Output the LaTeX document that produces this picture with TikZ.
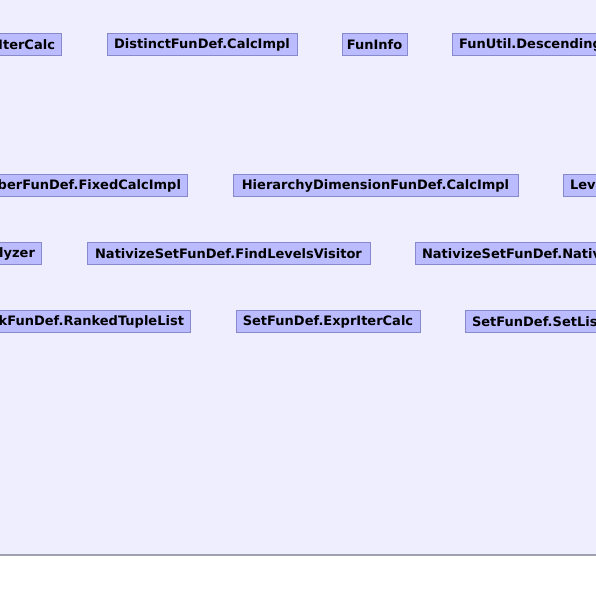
\documentclass[tikz,border=0pt]{standalone}
\usepackage{fontspec}
\setmainfont{DejaVu Sans}
\definecolor{bgcol}{HTML}{EEEEFF}
\definecolor{boxfill}{HTML}{BBBBFF}
\definecolor{boxline}{HTML}{8888CC}
\definecolor{footline}{HTML}{A0A0B0}
\begin{document}
\begin{tikzpicture}[x=0.75pt,y=-0.75pt,
  cls/.style={draw=boxline,fill=boxfill,line width=0.75pt,font=\bfseries\fontsize{9.75}{11}\selectfont,
    inner xsep=4.9pt,inner ysep=0pt,minimum height=16.5pt,text=black}]
\useasboundingbox (0,0) rectangle (596,591);
\clip (0,0) rectangle (596,591);
\fill[white] (0,0) rectangle (596,591);
\fill[bgcol] (0,0) rectangle (596,555);
\draw[draw=footline,line width=1.2pt] (0,555) -- (596,555);
% row 1
\node[cls,anchor=east] (r1a) at (62,45) {FilterFunDef.IterIterCalc};
\node[cls,minimum width=142.5pt] (r1b) at (202,45) {DistinctFunDef.CalcImpl};
\node[cls,minimum width=48.75pt,inner xsep=2pt] (r1c) at (374.5,45) {FunInfo};
\node[cls,anchor=west] (r1d) at (452,45) {FunUtil.DescendingValueComparator};
% row 2
\node[cls,anchor=east] (r2a) at (188,186) {HierarchyCurrentMemberFunDef.FixedCalcImpl};
\node[cls,minimum width=213.75pt] (r2b) at (375.5,186) {HierarchyDimensionFunDef.CalcImpl};
\node[cls,anchor=west] (r2c) at (563,186) {LevelMembersFunDef.CalcImpl};
% row 3
\node[cls,anchor=east] (r3a) at (42,254) {NativizeSetFunDef.CrossJoinAnalyzer};
\node[cls,minimum width=212.25pt] (r3b) at (228.5,254) {NativizeSetFunDef.FindLevelsVisitor};
\node[cls,anchor=west] (r3c) at (415,254) {NativizeSetFunDef.NativeElementCalc};
% row 4
\node[cls,anchor=east] (r4a) at (191,322) {RankFunDef.RankedTupleList};
\node[cls,minimum width=138pt] (r4b) at (328,322) {SetFunDef.ExprIterCalc};
\node[cls,anchor=west] (r4c) at (465,322) {SetFunDef.SetListCalc};
\end{tikzpicture}
\end{document}
